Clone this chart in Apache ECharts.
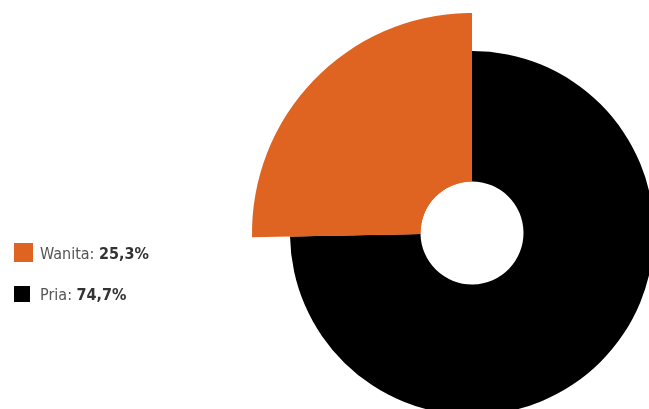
<!DOCTYPE html>
<html>
<head>
<meta charset="utf-8">
<script src="https://cdn.jsdelivr.net/npm/echarts@6/dist/echarts.min.js"></script>
<style>
  html, body { margin: 0; padding: 0; background: #fff; }
  #chart { width: 649px; height: 409px; }
</style>
</head>
<body>
<div id="chart"></div>
<script>
// Gender split
const categories = ['Pria', 'Wanita'];
const shares = [74.7, 25.3];
const colors = ['#000000', '#e06421'];

const fmt = v => v.toFixed(1).replace('.', ',') + '%';
const shareOf = name => shares[categories.indexOf(name)];

const chart = echarts.init(document.getElementById('chart'));
const FONT = '"Liberation Sans Narrow", "DejaVu Sans Condensed", "Roboto", sans-serif';

const legendText = pad => ({
  fontFamily: FONT,
  fontSize: 16,
  padding: pad,
  rich: {
    n: { fontFamily: FONT, fontSize: 16, color: '#555555' },
    b: { fontFamily: FONT, fontSize: 16, fontWeight: 'bold', color: '#333333' }
  }
});
const legendFormatter = name => '{n|' + name + ': }{b|' + fmt(shareOf(name)) + '}';

chart.setOption({
  animation: false,
  legend: [
    {
      data: ['Wanita'], left: 14, top: 243, padding: 0, itemWidth: 19, itemHeight: 19,
      icon: 'rect', textStyle: legendText([4, 0, 0, 2]), formatter: legendFormatter
    },
    {
      data: ['Pria'], left: 14, top: 286, padding: 0, itemWidth: 16, itemHeight: 16,
      icon: 'rect', textStyle: legendText([4, 0, 0, 5]), formatter: legendFormatter
    }
  ],
  series: [
    {
      type: 'pie',
      center: [472, 233],
      radius: [51.5, 182],
      startAngle: 90,
      clockwise: true,
      label: { show: false },
      labelLine: { show: false },
      emphasis: { disabled: true },
      data: categories.map((c, i) => ({
        name: c, value: shares[i], itemStyle: { color: colors[i] }
      }))
    },
    {
      // the smaller share is drawn with a longer outer radius
      type: 'pie',
      center: [472, 233],
      radius: [51.5, 220],
      startAngle: 90,
      clockwise: true,
      label: { show: false },
      labelLine: { show: false },
      emphasis: { disabled: true },
      silent: true,
      data: categories.map((c, i) => ({
        name: c, value: shares[i],
        itemStyle: { color: c === 'Wanita' ? colors[i] : 'rgba(0,0,0,0)' }
      }))
    }
  ]
});
</script>
</body>
</html>
